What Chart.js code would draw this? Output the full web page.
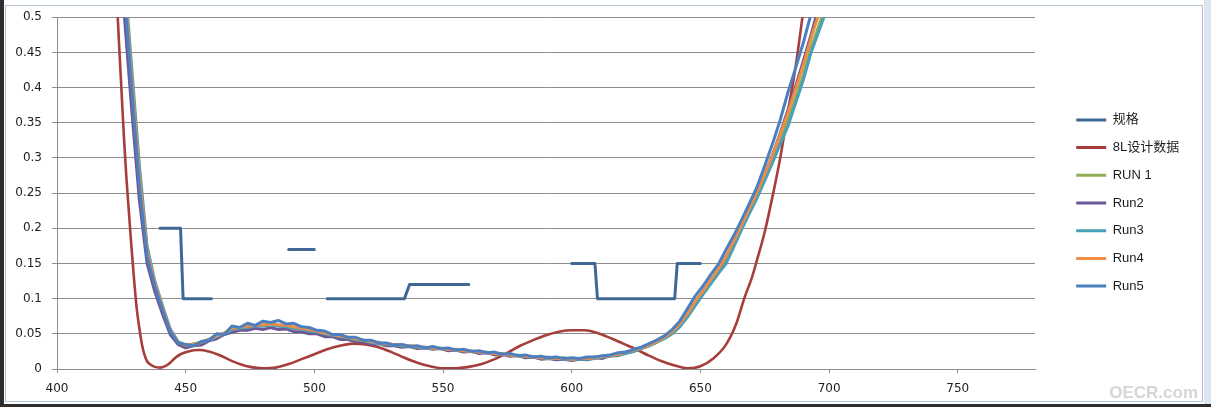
<!DOCTYPE html>
<html>
<head>
<meta charset="utf-8">
<script src="https://cdn.jsdelivr.net/npm/chart.js@4.4.1/dist/chart.umd.min.js"></script>
<style>
  html, body { margin: 0; padding: 0; background: #fff; }
  #wrap { position: relative; width: 1211px; height: 407px; }
</style>
</head>
<body>
<div id="wrap"><canvas id="chart"></canvas></div>
<script>
// wavelength grid (nm) of the measured runs
const wavelengths = [420, 423, 426, 429, 432, 435, 438, 441, 444, 447, 450, 453, 456, 459, 462, 465, 468, 471, 474, 477,
  480, 483, 486, 489, 492, 495, 498, 501, 504, 507, 510, 513, 516, 519, 522, 525, 528, 531, 534, 537,
  540, 543, 546, 549, 552, 555, 558, 561, 564, 567, 570, 573, 576, 579, 582, 585, 588, 591, 594, 597,
  600, 603, 606, 609, 612, 615, 618, 621, 624, 627, 630, 633, 636, 639, 642, 645, 648, 651, 654, 657,
  660, 663, 666, 669, 672, 675, 678, 681, 684, 687, 690, 693, 696, 699];

const run1 = [0.86, 0.69, 0.55, 0.41, 0.27, 0.165, 0.12, 0.086, 0.055,
  0.038, 0.032, 0.036, 0.037, 0.042, 0.046, 0.051, 0.056, 0.059, 0.059, 0.062, 0.061, 0.064, 0.061, 0.061, 0.058,
  0.058, 0.054, 0.054, 0.049, 0.049, 0.045, 0.045, 0.041, 0.041, 0.037, 0.038, 0.034, 0.035, 0.032, 0.033,
  0.030, 0.031, 0.029, 0.030, 0.027, 0.028, 0.025, 0.026, 0.023, 0.024, 0.021, 0.022, 0.019, 0.020, 0.017,
  0.018, 0.015, 0.017, 0.014, 0.016, 0.013, 0.015, 0.014, 0.017, 0.016, 0.020, 0.020, 0.024, 0.025,
  0.029, 0.033, 0.038, 0.044, 0.051, 0.061, 0.075, 0.091, 0.107, 0.122, 0.137, 0.153, 0.177, 0.200, 0.223,
  0.246, 0.271, 0.297, 0.324, 0.352, 0.385, 0.418, 0.456, 0.488, 0.52];

const run2 = [0.82, 0.65, 0.51, 0.37, 0.24, 0.15, 0.11, 0.078, 0.049,
  0.035, 0.030, 0.033, 0.034, 0.040, 0.043, 0.049, 0.052, 0.055, 0.055, 0.058, 0.056, 0.059, 0.056, 0.057, 0.053,
  0.053, 0.050, 0.050, 0.046, 0.046, 0.042, 0.042, 0.039, 0.039, 0.035, 0.036, 0.033, 0.033, 0.031, 0.032,
  0.029, 0.030, 0.028, 0.029, 0.026, 0.027, 0.024, 0.025, 0.022, 0.023, 0.020, 0.021, 0.018, 0.019, 0.016,
  0.017, 0.014, 0.015, 0.013, 0.014, 0.012, 0.014, 0.013, 0.016, 0.015, 0.019, 0.019, 0.023, 0.025,
  0.030, 0.034, 0.039, 0.045, 0.052, 0.063, 0.078, 0.095, 0.110, 0.126, 0.141, 0.160, 0.181, 0.204, 0.226,
  0.249, 0.276, 0.304, 0.335, 0.368, 0.402, 0.438, 0.475, 0.515, 0.555];

const run3 = [0.88, 0.71, 0.57, 0.43, 0.29, 0.175, 0.125, 0.09, 0.057,
  0.039, 0.034, 0.034, 0.038, 0.041, 0.046, 0.050, 0.056, 0.058, 0.059, 0.061, 0.061, 0.062, 0.061, 0.060, 0.058,
  0.057, 0.054, 0.053, 0.050, 0.048, 0.046, 0.044, 0.042, 0.040, 0.038, 0.036, 0.035, 0.034, 0.033, 0.032,
  0.031, 0.030, 0.029, 0.029, 0.028, 0.027, 0.026, 0.025, 0.024, 0.023, 0.022, 0.021, 0.020, 0.019, 0.018,
  0.017, 0.016, 0.015, 0.015, 0.014, 0.014, 0.014, 0.014, 0.015, 0.017, 0.018, 0.020, 0.022, 0.025,
  0.029, 0.033, 0.038, 0.043, 0.050, 0.060, 0.074, 0.090, 0.106, 0.121, 0.136, 0.150, 0.174, 0.198, 0.221,
  0.243, 0.268, 0.293, 0.320, 0.345, 0.378, 0.411, 0.450, 0.480, 0.51];

const run4 = [0.86, 0.69, 0.55, 0.415, 0.275, 0.168, 0.122, 0.087, 0.055,
  0.038, 0.034, 0.035, 0.038, 0.042, 0.047, 0.051, 0.058, 0.059, 0.061, 0.062, 0.063, 0.064, 0.063, 0.062, 0.060,
  0.058, 0.056, 0.054, 0.051, 0.049, 0.047, 0.045, 0.043, 0.041, 0.039, 0.037, 0.036, 0.035, 0.034, 0.033,
  0.032, 0.031, 0.030, 0.029, 0.028, 0.027, 0.026, 0.025, 0.024, 0.023, 0.022, 0.021, 0.020, 0.019, 0.018,
  0.017, 0.016, 0.016, 0.015, 0.015, 0.014, 0.015, 0.015, 0.016, 0.018, 0.019, 0.021, 0.024, 0.027,
  0.030, 0.034, 0.039, 0.045, 0.053, 0.064, 0.079, 0.096, 0.111, 0.127, 0.142, 0.160, 0.182, 0.205, 0.228,
  0.251, 0.277, 0.304, 0.333, 0.364, 0.398, 0.432, 0.470, 0.505, 0.54];

const run5 = [0.85, 0.68, 0.54, 0.40, 0.26, 0.16, 0.118, 0.084, 0.053,
  0.037, 0.035, 0.033, 0.039, 0.041, 0.050, 0.049, 0.061, 0.059, 0.065, 0.062, 0.068, 0.066, 0.069, 0.064, 0.065,
  0.060, 0.059, 0.055, 0.054, 0.049, 0.049, 0.045, 0.045, 0.041, 0.041, 0.037, 0.037, 0.034, 0.035, 0.032,
  0.033, 0.030, 0.032, 0.029, 0.030, 0.027, 0.028, 0.025, 0.026, 0.023, 0.024, 0.021, 0.022, 0.019, 0.020,
  0.017, 0.018, 0.016, 0.017, 0.015, 0.016, 0.015, 0.017, 0.017, 0.019, 0.020, 0.023, 0.024, 0.028,
  0.031, 0.036, 0.041, 0.047, 0.056, 0.068, 0.086, 0.104, 0.118, 0.134, 0.149, 0.170, 0.190, 0.212, 0.235,
  0.259, 0.289, 0.320, 0.354, 0.393, 0.428, 0.464, 0.505, 0.55, 0.60];

// 8L design curve
const designWl = [415, 418, 420, 422, 424, 425, 426, 427, 428, 429, 430, 431, 432, 433, 434, 435, 436, 438, 440,
  442, 444, 446, 448, 451, 455, 459, 463, 467, 471, 475, 480, 485, 490, 495, 500, 505, 510, 515, 520,
  525, 530, 535, 540, 545, 550, 555, 560, 565, 570, 575, 580, 585, 590, 595, 600, 605, 610, 615, 620,
  625, 630, 635, 640, 645, 650, 655, 660, 664, 667, 670, 672, 675, 678, 681, 684, 687, 690, 694];
const designT = [1.2, 0.95, 0.78, 0.62, 0.47, 0.40, 0.33, 0.27, 0.22, 0.17, 0.125, 0.085, 0.058, 0.035, 0.02, 0.011, 0.007, 0.003, 0.002,
  0.004, 0.009, 0.016, 0.021, 0.025, 0.027, 0.025, 0.020, 0.013, 0.007, 0.003, 0.001, 0.002, 0.007, 0.014, 0.021, 0.028, 0.033, 0.036, 0.035,
  0.031, 0.024, 0.016, 0.009, 0.004, 0.001, 0.001, 0.003, 0.007, 0.014, 0.023, 0.033, 0.041, 0.048, 0.053, 0.055, 0.055, 0.051, 0.044, 0.036,
  0.028, 0.019, 0.011, 0.005, 0.001, 0.004, 0.015, 0.035, 0.065, 0.10, 0.13, 0.155, 0.195, 0.245, 0.30, 0.365, 0.43, 0.51, 0.62];

// spec limits (null = gap between segments)
const specWl = [440, 448, 449, 460, 475, 490, 500, 502, 505, 535, 537, 560, 580, 600, 609, 610, 640, 641, 650];
const specT = [0.2, 0.2, 0.1, 0.1, null, 0.17, 0.17, null, 0.1, 0.1, 0.12, 0.12, null, 0.15, 0.15, 0.1, 0.1, 0.15, 0.15];

const seriesNames = ['规格', '8L设计数据', 'RUN 1', 'Run2', 'Run3', 'Run4', 'Run5'];
const seriesColors = ['#3f6895', '#a63e3b', '#8fae57', '#6d5896', '#46a1b9', '#ee8d45', '#4b7fc0'];

const xMin = 400, xMax = 780, xStep = 50;
const yMin = 0, yMax = 0.5, yStep = 0.05;

const pts = (xs, ys) => xs.map((x, i) => ({ x: x, y: ys[i] }));
const seriesData = [
  pts(specWl, specT),
  pts(designWl, designT),
  pts(wavelengths, run1),
  pts(wavelengths, run2),
  pts(wavelengths, run3),
  pts(wavelengths, run4),
  pts(wavelengths, run5)
];

const gridGray = '#8c8c8c';

// Excel-like frame around the chart and watermark
const framePlugin = {
  id: 'frame',
  beforeDraw(chart) {
    const { ctx, width, height } = chart;
    ctx.save();
    ctx.fillStyle = '#ffffff';
    ctx.fillRect(0, 0, width, height);
    ctx.fillStyle = '#2e2e2e';
    ctx.fillRect(0, 0, 4, height);
    ctx.fillRect(0, height - 3, width, 3);
    ctx.fillStyle = '#dde6ee';
    ctx.fillRect(width - 7, 0, 7, height - 3);
    ctx.strokeStyle = '#b3c5d5';
    ctx.lineWidth = 1;
    ctx.strokeRect(5.5, 5.5, width - 14, height - 11);
    ctx.restore();
  },
  afterDraw(chart) {
    const { ctx } = chart;
    ctx.save();
    ctx.font = 'bold 17px "Liberation Sans", Arial, sans-serif';
    ctx.fillStyle = '#d6d6d6';
    ctx.textAlign = 'right';
    ctx.textBaseline = 'middle';
    ctx.fillText('OECR.com', 1198, 393);
    ctx.restore();
  }
};

// push the legend away from the plot area
const legendShift = {
  id: 'legendShift',
  afterLayout(chart) {
    if (chart.legend) {
      chart.legend.left += 26.5;
      chart.legend.right += 26.5;
      chart.legend.top -= 8;
      chart.legend.bottom -= 8;
    }
  }
};

Chart.defaults.font.family = '"DejaVu Sans", "Noto Sans CJK SC", sans-serif';
Chart.defaults.font.size = 12;
Chart.defaults.color = '#1e1e1e';

new Chart(document.getElementById('chart'), {
  type: 'line',
  data: {
    datasets: seriesNames.map((name, i) => ({
      label: name,
      data: seriesData[i],
      borderColor: seriesColors[i],
      backgroundColor: seriesColors[i],
      borderWidth: i === 1 ? 2.6 : 3,
      pointRadius: 0,
      tension: 0,
      cubicInterpolationMode: i === 1 ? 'monotone' : 'default',
      borderCapStyle: 'round',
      borderJoinStyle: 'round',
      spanGaps: false,
      fill: false,
      order: seriesNames.length - 1 - i
    }))
  },
  options: {
    responsive: true,
    maintainAspectRatio: false,
    animation: false,
    layout: { padding: { left: 0, right: 56, top: 15, bottom: 0 } },
    plugins: {
      legend: {
        position: 'right',
        maxWidth: 120,
        labels: {
          boxWidth: 30,
          boxHeight: 3,
          padding: 14.7,
          font: { size: 13, family: '"Liberation Sans", "Noto Sans CJK SC", sans-serif' },
          color: '#1e1e1e',
          sort: (a, b) => a.datasetIndex - b.datasetIndex,
          generateLabels(chart) {
            return Chart.defaults.plugins.legend.labels.generateLabels(chart)
              .map(item => Object.assign(item, { lineWidth: 0 }));
          }
        }
      },
      tooltip: { enabled: false }
    },
    scales: {
      x: {
        type: 'linear',
        min: xMin,
        max: xMax,
        afterFit(scale) { scale.height = 38; },
        grid: { drawOnChartArea: false, drawTicks: true, tickLength: 4, color: gridGray },
        border: { display: true, color: gridGray },
        ticks: { stepSize: xStep, includeBounds: false, padding: 9, maxRotation: 0 }
      },
      y: {
        type: 'linear',
        min: yMin,
        max: yMax,
        afterFit(scale) { scale.width = 57; },
        grid: { color: gridGray, tickLength: 5 },
        border: { display: true, color: gridGray },
        ticks: {
          stepSize: yStep,
          padding: 10,
          callback: v => String(+v.toFixed(2))
        }
      }
    }
  },
  plugins: [framePlugin, legendShift]
});
</script>
</body>
</html>
